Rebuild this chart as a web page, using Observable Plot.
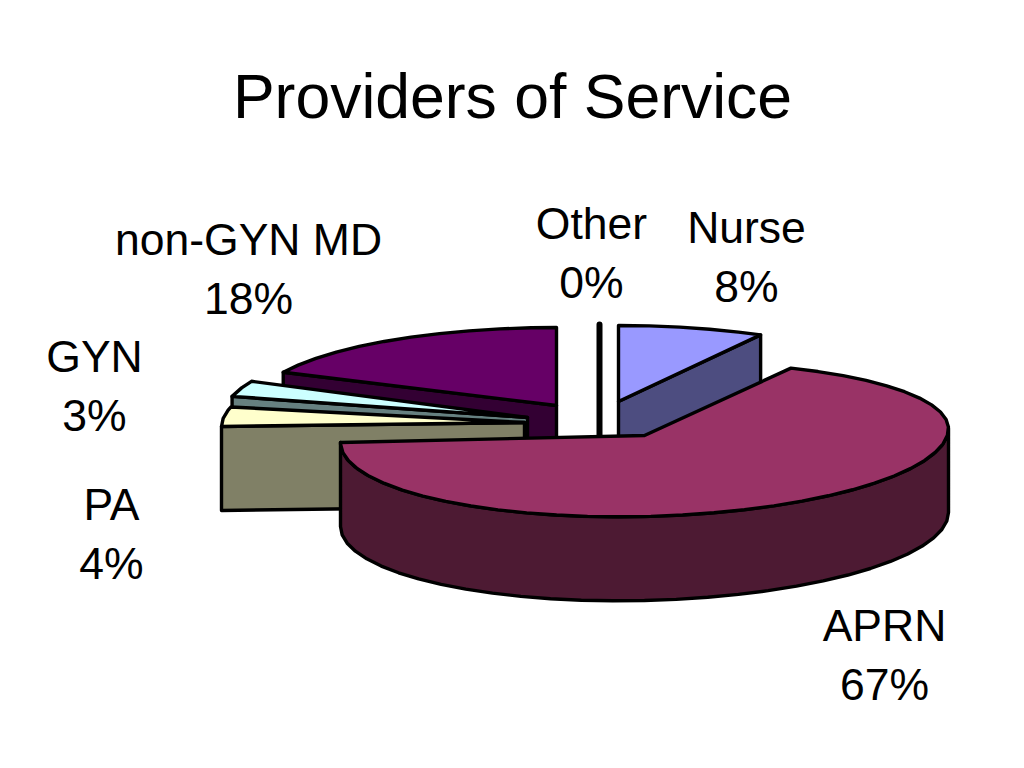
<!DOCTYPE html>
<html>
<head>
<meta charset="utf-8">
<script src="https://cdn.jsdelivr.net/npm/d3@7"></script>
<script src="https://cdn.jsdelivr.net/npm/@observablehq/plot@0.6"></script>
<style>html,body{margin:0;padding:0;background:#fff}svg{display:block}</style>
</head>
<body>
<div id="chart"></div>
<script>
const title = "Providers of Service";
const categories = ["Nurse", "APRN", "PA", "GYN", "non-GYN MD", "Other"];
const values = [8, 67, 4, 3, 18, 0];
const topColors = ["#9999ff", "#993366", "#ffffcc", "#ccffff", "#660066", "#000000"];
const wallColors = ["#4d4d80", "#4d1a33", "#808066", "#668080", "#330033", "#000000"];

// 3D pie layout, per slice (same order as categories): exploded centre, radii, tilt
const apexX = [618, 644, 524, 527, 556, 599];
const apexY = [401, 435, 422, 417, 405, 402];
const radiusX = [295, 304, 303, 305, 302, 300];
const radiusYBack = [76, 73, 78, 85, 78, 78];
const radiusYFront = [76, 81, 78, 85, 78, 78];
const tilt = [0, 7, 4, 0, 0, 0];
const depth = 84;
const drawOrder = [4, 3, 2, 5, 0, 1];
const labelX = [746, 884, 111, 94, 248, 591];
const labelY = [253, 651, 530, 382, 265, 249];

const ends = Array.from(d3.cumsum(values), (v) => (v / d3.sum(values)) * 360);
const rad = (deg) => (deg * Math.PI) / 180;
function rim(i, t) {
  const c = Math.cos(rad(t)), s = Math.sin(rad(t));
  return {
    x: apexX[i] + radiusX[i] * s,
    y: apexY[i] - (c > 0 ? radiusYBack[i] : radiusYFront[i]) * c - tilt[i] * s
  };
}
function arc(i, a, b) {
  const ts = d3.range(a, b, 6);
  ts.push(b);
  return ts.map((t) => rim(i, t));
}
const rows = [];
function poly(id, points, fill, sw) {
  [...points, points[0]].forEach((p) => rows.push({id, x: p.x, y: p.y, fill, sw}));
}
const down = (p) => ({x: p.x, y: p.y + depth});
for (const i of drawOrder) {
  const a = i === 0 ? 0 : ends[i - 1], b = ends[i];
  const apex = {x: apexX[i], y: apexY[i]};
  const name = categories[i];
  if (values[i] === 0) {
    const top = rim(i, 0);
    poly(name, [top, apex, down(apex)], "#000000", 6);
    continue;
  }
  // cut face that looks toward the viewer
  if (b < 180 || a > 180) {
    const edge = rim(i, b < 180 ? b : a);
    poly(name + " cut", [apex, edge, down(edge), down(apex)], wallColors[i], 3.4);
  }
  // outer wall on the front half
  const wa = Math.max(a, 90), wb = Math.min(b, 270);
  if (wa < wb) {
    const front = arc(i, wa, wb);
    poly(name + " wall", [...front, ...front.slice().reverse().map(down)], wallColors[i], 3.4);
  }
  poly(name + " top", [apex, ...arc(i, a, b)], topColors[i], 3.4);
}

const labels = categories.map((c, i) => ({
  text: `${c}\n${values[i]}%`, x: labelX[i], y: labelY[i]
}));

const plot = Plot.plot({
  width: 1024,
  height: 768,
  margin: 0,
  x: {domain: [0, 1024], range: [0, 1024], axis: null},
  y: {domain: [0, 768], range: [0, 768], axis: null},
  color: {type: "identity"},
  style: {fontFamily: "'Liberation Sans', Arial, sans-serif", background: "#fff"},
  marks: [
    Plot.line(rows, {
      x: "x", y: "y", z: "id", fill: "fill", stroke: "#000",
      strokeWidth: "sw", strokeLinejoin: "round", curve: "linear"
    }),
    Plot.text(labels, {
      x: "x", y: "y", text: "text", fontSize: 44.5, lineHeight: 1.34,
      lineAnchor: "middle", textAnchor: "middle", fill: "#000"
    }),
    Plot.text([title], {
      x: () => 512, y: () => 97, text: (d) => d, fontSize: 62.5,
      lineAnchor: "middle", textAnchor: "middle", fill: "#000"
    })
  ]
});
document.getElementById("chart").appendChild(plot);
</script>
</body>
</html>
